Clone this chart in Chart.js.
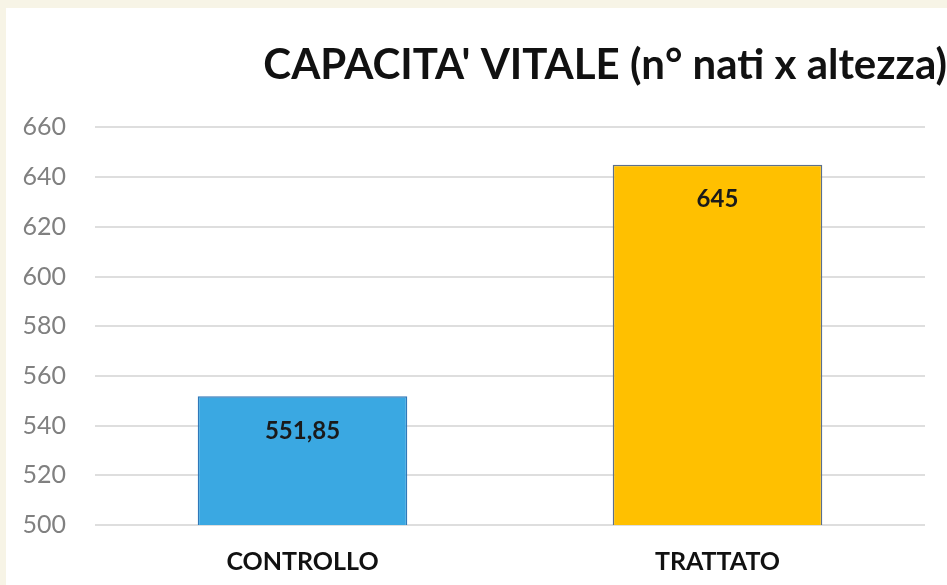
<!DOCTYPE html>
<html>
<head>
<meta charset="utf-8">
<script src="https://cdn.jsdelivr.net/npm/chart.js@4.4.1/dist/chart.umd.min.js"></script>
<style>
  html, body { margin: 0; padding: 0; background: #f7f4e6; }
  #wrap { position: absolute; left: 6px; top: 8px; width: 941px; height: 577px; background: #ffffff; }
</style>
</head>
<body>
<div id="wrap"><canvas id="myChart"></canvas></div>
<script>
var categories = ["CONTROLLO", "TRATTATO"];
var values = [551.85, 645];
var valueLabels = ["551,85", "645"];
var barColors = ["#3aa8e2", "#ffc000"];
var barBorders = ["#2f78b8", "#5b708c"];

// draws the value inside the top of each bar
var insideLabels = {
  id: "insideLabels",
  afterDatasetsDraw: function (chart) {
    var ctx = chart.ctx;
    var meta = chart.getDatasetMeta(0);
    ctx.save();
    ctx.font = "bold 24px Lato";
    ctx.fillStyle = "#1a1a1a";
    ctx.textAlign = "center";
    ctx.textBaseline = "middle";
    meta.data.forEach(function (bar, i) {
      ctx.fillText(valueLabels[i], bar.x, bar.y + 35);
    });
    ctx.restore();
  }
};

var ctx = document.getElementById("myChart").getContext("2d");
var myChart = new Chart(ctx, {
  type: "bar",
  plugins: [insideLabels],
  data: {
    labels: categories,
    datasets: [
      {
        data: values,
        backgroundColor: barColors,
        borderColor: barBorders,
        borderWidth: 1.5,
        categoryPercentage: 0.505,
        barPercentage: 1
      }
    ]
  },
  options: {
    responsive: true,
    maintainAspectRatio: false,
    animation: false,
    layout: { padding: { left: 16, top: 0, right: 0, bottom: 0 } },
    plugins: {
      legend: { display: false },
      tooltip: { enabled: false },
      title: {
        display: true,
        text: "CAPACITA' VITALE (n° nati x altezza)",
        align: "end",
        color: "#111111",
        font: { family: "Lato", size: 42, weight: "bold" },
        padding: { top: 32, bottom: 37 }
      }
    },
    scales: {
      x: {
        grid: { display: false },
        border: { display: false },
        ticks: {
          color: "#111111",
          font: { family: "Lato", size: 25, weight: "bold" },
          padding: 14
        },
        afterFit: function (scale) { scale.height = 60; }
      },
      y: {
        min: 500,
        max: 660,
        border: { display: false },
        grid: { color: "#dedede", lineWidth: 2, drawTicks: false },
        ticks: {
          stepSize: 20,
          color: "#808080",
          font: { family: "Lato", size: 25 },
          padding: 29
        },
        afterFit: function (scale) { scale.width = 73; }
      },
      y2: {
        position: "right",
        display: true,
        grid: { display: false },
        border: { display: false },
        ticks: { display: false },
        afterFit: function (scale) { scale.width = 22; }
      }
    }
  }
});
</script>
</body>
</html>
